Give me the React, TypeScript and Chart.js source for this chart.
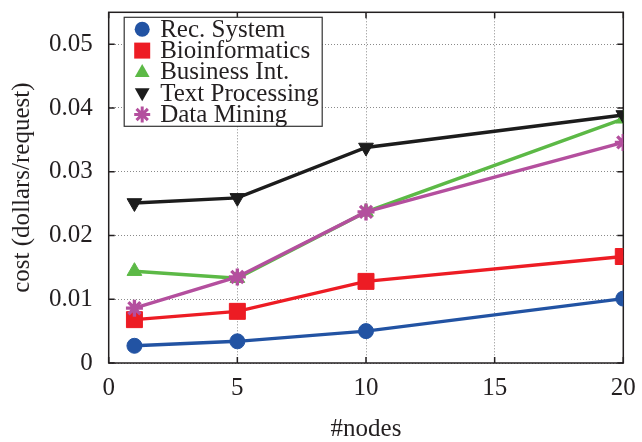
import React, { useEffect, useRef } from "react";
import { Chart, registerables } from "chart.js";

Chart.register(...registerables);

// Cluster size on the x axis and cost per request for each workload
const nodes = [1, 5, 10, 20];
const recSystem = [0.0027, 0.0034, 0.005, 0.0101];
const bioinformatics = [0.0068, 0.0081, 0.0128, 0.0167];
const businessInt = [0.0144, 0.0133, 0.0237, 0.0383];
const textProcessing = [0.0251, 0.0259, 0.0338, 0.0389];
const dataMining = [0.0086, 0.0135, 0.0237, 0.0346];

const seriesNames = ["Rec. System", "Bioinformatics", "Business Int.", "Text Processing", "Data Mining"];
const xTicks = [0, 5, 10, 15, 20];
const yTicks = [0, 0.01, 0.02, 0.03, 0.04, 0.05];

const FONT = "'Liberation Serif', 'Times New Roman', serif";
const TEXT = "#231f20";

const colors = ["#2253a3", "#ed1c24", "#5cb946", "#1c1c1c", "#b44f9e"];
const pointStyles = ["circle", "rect", "triangle", "triangle", "star"] as const;
const pointRadii = [7.5, 11.3, 8.5, 8.5, 8.5];
const pointRotations = [0, 0, 0, 180, 0];

function drawMarker(ctx: CanvasRenderingContext2D, i: number, x: number, y: number) {
  const c = colors[i];
  ctx.save();
  ctx.fillStyle = c;
  ctx.strokeStyle = c;
  ctx.beginPath();
  if (i === 0) {
    ctx.arc(x, y, 7.5, 0, Math.PI * 2);
    ctx.fill();
  } else if (i === 1) {
    ctx.rect(x - 8, y - 8, 16, 16);
    ctx.fill();
  } else if (i === 2) {
    ctx.moveTo(x, y - 8);
    ctx.lineTo(x + 7.4, y + 5);
    ctx.lineTo(x - 7.4, y + 5);
    ctx.closePath();
    ctx.fill();
  } else if (i === 3) {
    ctx.moveTo(x, y + 8);
    ctx.lineTo(x + 7.4, y - 5);
    ctx.lineTo(x - 7.4, y - 5);
    ctx.closePath();
    ctx.fill();
  } else {
    const r = 8;
    ctx.lineWidth = 3;
    ctx.moveTo(x, y - r);
    ctx.lineTo(x, y + r);
    ctx.moveTo(x - r, y);
    ctx.lineTo(x + r, y);
    const d = r * Math.SQRT1_2;
    ctx.moveTo(x - d, y - d);
    ctx.lineTo(x + d, y + d);
    ctx.moveTo(x - d, y + d);
    ctx.lineTo(x + d, y - d);
    ctx.stroke();
  }
  ctx.restore();
}

// Plot border with inward tick marks on all four sides
const framePlugin = {
  id: "frame",
  beforeDatasetsDraw(chart: any) {
    const { ctx, chartArea: a, scales } = chart;
    ctx.save();
    ctx.strokeStyle = TEXT;
    ctx.lineWidth = 1.5;
    ctx.beginPath();
    const t = 6;
    for (const v of xTicks) {
      const px = scales.x.getPixelForValue(v);
      ctx.moveTo(px, a.bottom);
      ctx.lineTo(px, a.bottom - t);
      ctx.moveTo(px, a.top);
      ctx.lineTo(px, a.top + t);
    }
    for (const v of yTicks) {
      const py = scales.y.getPixelForValue(v);
      ctx.moveTo(a.left, py);
      ctx.lineTo(a.left + t, py);
      ctx.moveTo(a.right, py);
      ctx.lineTo(a.right - t, py);
    }
    ctx.stroke();
    ctx.strokeRect(a.left, a.top, a.right - a.left, a.bottom - a.top);
    ctx.restore();
  },
};

// Boxed key in the upper-left corner of the plot
const keyPlugin = {
  id: "key",
  afterDraw(chart: any) {
    const { ctx, chartArea: a } = chart;
    const bx = a.left + 15.5;
    const by = a.top + 5;
    const bw = 198;
    const bh = 109;
    ctx.save();
    ctx.fillStyle = "#ffffff";
    ctx.fillRect(bx, by, bw, bh);
    ctx.strokeStyle = "#333";
    ctx.lineWidth = 1.2;
    ctx.strokeRect(bx, by, bw, bh);
    ctx.font = `25px ${FONT}`;
    ctx.textBaseline = "middle";
    ctx.fillStyle = TEXT;
    seriesNames.forEach((name, i) => {
      const y = by + 12 + i * 21.3;
      drawMarker(ctx, i, bx + 18, y);
      ctx.fillStyle = TEXT;
      ctx.fillText(name, bx + 36, y + 1);
    });
    ctx.restore();
  },
};

export default function App() {
  const canvasRef = useRef<HTMLCanvasElement | null>(null);

  useEffect(() => {
    const canvas = canvasRef.current;
    if (!canvas) return;
    const series = [recSystem, bioinformatics, businessInt, textProcessing, dataMining];
    const chart = new Chart(canvas, {
      type: "line",
      data: {
        datasets: series.map((vals, i) => ({
          label: seriesNames[i],
          data: vals.map((v, j) => ({ x: nodes[j], y: v })),
          borderColor: colors[i],
          backgroundColor: colors[i],
          borderWidth: 3.4,
          pointStyle: pointStyles[i],
          pointRadius: pointRadii[i],
          pointRotation: pointRotations[i],
          pointBorderWidth: i === 4 ? 3.4 : 1,
          pointBorderColor: colors[i],
          pointBackgroundColor: colors[i],
          tension: 0,
          fill: false,
          order: series.length - i,
        })),
      },
      options: {
        animation: false,
        responsive: false,
        devicePixelRatio: 1,
        layout: { padding: { left: 0, right: 18.7, top: 11, bottom: 0 } },
        plugins: {
          legend: { display: false },
          tooltip: { enabled: false },
        },
        scales: {
          x: {
            type: "linear",
            min: 0,
            max: 20,
            afterBuildTicks: (s: any) => {
              s.ticks = xTicks.map((v) => ({ value: v }));
            },
            afterFit: (s: any) => {
              s.height = 79;
              s.paddingLeft = 0;
              s.paddingRight = 0;
              s.paddingTop = 0;
              s.paddingBottom = 0;
            },
            ticks: {
              color: TEXT,
              font: { family: FONT, size: 25 },
              padding: 10,
              maxRotation: 0,
              callback: (v: any) => String(v),
            },
            grid: { color: "#8a8a8a", lineWidth: 1, drawTicks: false },
            border: { display: false, dash: [1, 2] },
            title: {
              display: true,
              text: "#nodes",
              color: TEXT,
              font: { family: FONT, size: 25, lineHeight: 1 },
              padding: { top: 0, bottom: 0 },
            },
          },
          y: {
            type: "linear",
            min: 0,
            max: 0.055,
            afterBuildTicks: (s: any) => {
              s.ticks = yTicks.map((v) => ({ value: v }));
            },
            afterFit: (s: any) => {
              s.width = 108.7;
              s.paddingLeft = 0;
              s.paddingRight = 0;
              s.paddingTop = 0;
              s.paddingBottom = 0;
            },
            ticks: {
              color: TEXT,
              font: { family: FONT, size: 25 },
              padding: 16,
              callback: (v: any) => (Number(v) === 0 ? "0" : Number(v).toFixed(2)),
            },
            grid: { color: "#8a8a8a", lineWidth: 1, drawTicks: false },
            border: { display: false, dash: [1, 2] },
            title: {
              display: true,
              text: "cost (dollars/request)",
              color: TEXT,
              font: { family: FONT, size: 25, lineHeight: 1 },
              padding: { top: 9.5, bottom: 0 },
            },
          },
        },
      },
      plugins: [framePlugin, keyPlugin],
    } as any);
    return () => chart.destroy();
  }, []);

  return (
    <div style={{ position: "fixed", left: 0, top: 0, width: 642, height: 442, background: "#fff" }}>
      <canvas ref={canvasRef} width={642} height={442} />
    </div>
  );
}
